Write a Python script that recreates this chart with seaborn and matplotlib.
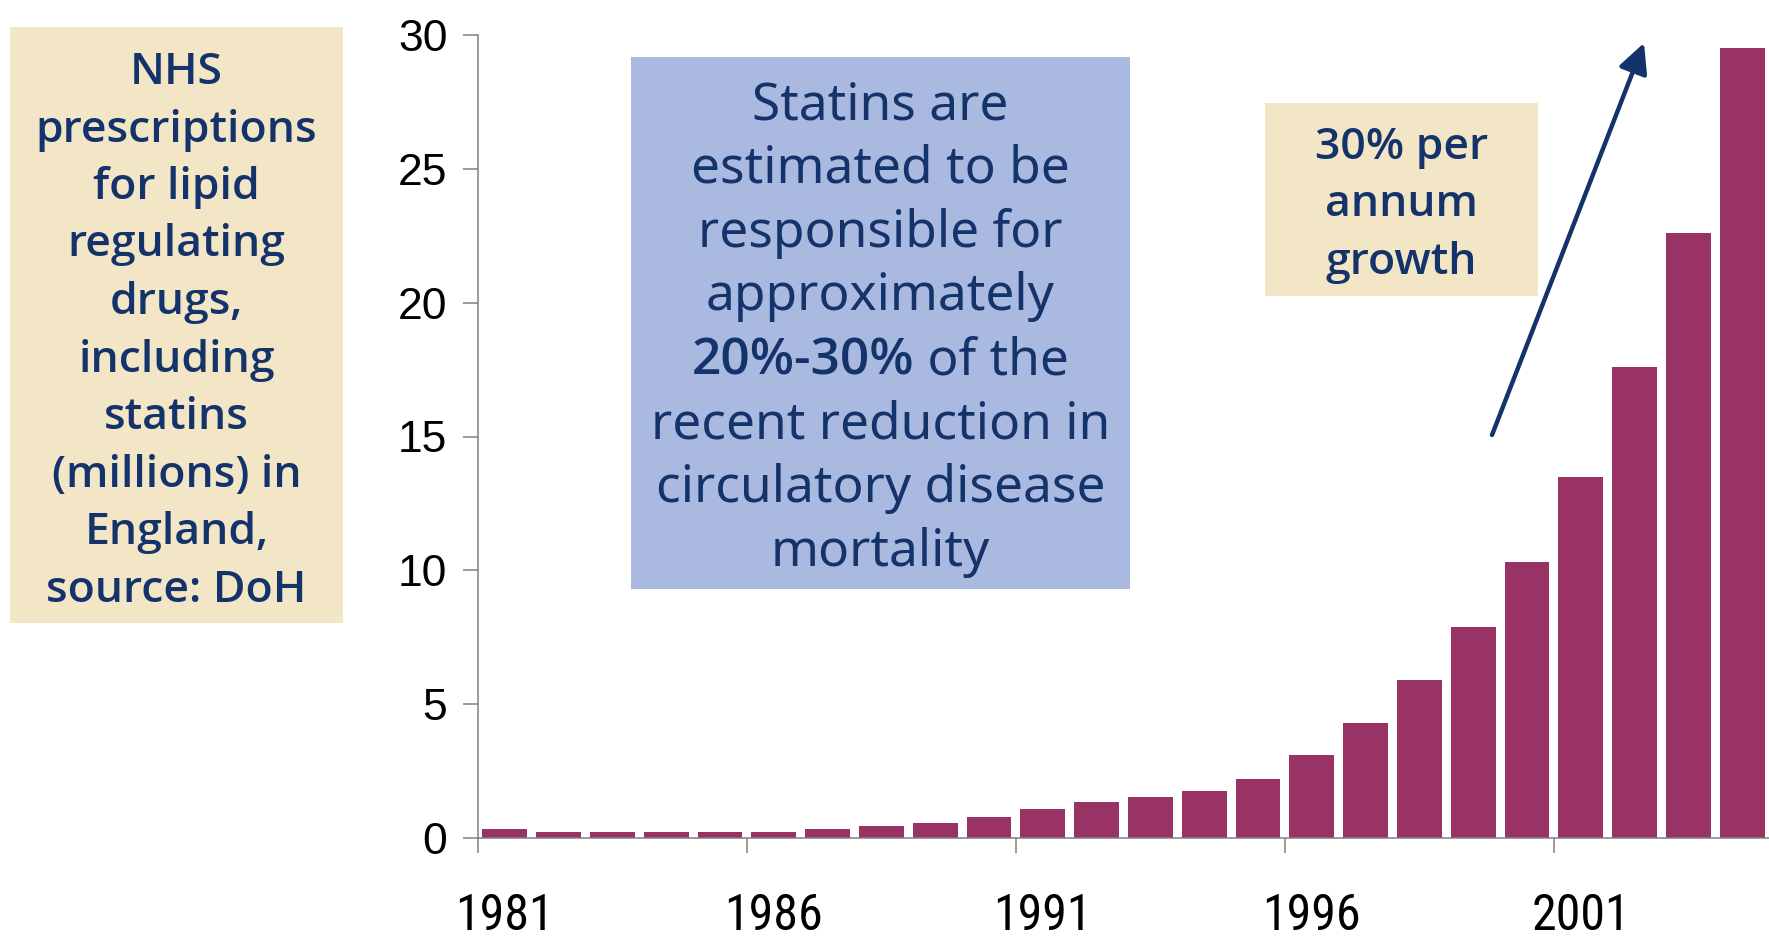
import matplotlib
matplotlib.use("Agg")
import matplotlib.pyplot as plt
from matplotlib import font_manager
from matplotlib.patches import Rectangle, FancyArrowPatch, ArrowStyle
import seaborn as sns
import pandas as pd

# ---- data -------------------------------------------------------------
years = ["1981", "1982", "1983", "1984", "1985", "1986", "1987", "1988",
         "1989", "1990", "1991", "1992", "1993", "1994", "1995", "1996",
         "1997", "1998", "1999", "2000", "2001", "2002", "2003", "2004"]
prescriptions_m = [0.34, 0.22, 0.22, 0.22, 0.22, 0.22, 0.34, 0.45,
                   0.56, 0.78, 1.1, 1.33, 1.55, 1.77, 2.2, 3.1,
                   4.3, 5.9, 7.9, 10.3, 13.5, 17.6, 22.6, 29.5]
year_labels = ["1981", "1986", "1991", "1996", "2001"]
y_ticks = [0, 5, 10, 15, 20, 25, 30]

source_lines = ["NHS", "prescriptions", "for lipid", "regulating", "drugs,",
                "including", "statins", "(millions) in", "England,",
                "source: DoH"]
statins_lines = ["Statins are", "estimated to be", "responsible for",
                 "approximately", None, "recent reduction in",
                 "circulatory disease", "mortality"]
statins_bold, statins_rest = "20%-30%", " of the"
growth_lines = ["30% per", "annum", "growth"]

# ---- style ------------------------------------------------------------
W, H = 1769, 939
BAR = "#993366"
NAVY = "#14336B"
BEIGE = "#F2E6C6"
BLUE = "#AAB9DF"
GREY = "#808080"

sns.set_style("ticks")


def weights_of(family):
    out = set()
    for f in font_manager.fontManager.ttflist:
        if f.name == family:
            w = f.weight
            if isinstance(w, str):
                w = {"bold": 700, "semibold": 600, "normal": 400,
                     "regular": 400, "medium": 500}.get(w.lower(), 400)
            out.add(int(w))
    return out


def pick_family(candidates, bold=False):
    for fam in candidates:
        ws = weights_of(fam)
        if not ws:
            continue
        if bold and max(ws) < 600:
            continue
        return fam
    return "DejaVu Sans"


text_regular = pick_family(["Noto Sans", "Open Sans", "DejaVu Sans"])
text_bold = pick_family(["Noto Sans", "Open Sans", "Lato", "Roboto", "DejaVu Sans"], bold=True)
bold_weight = 600 if 600 in weights_of(text_bold) else "bold"

narrow = None
for cand in ["Liberation Sans Narrow", "Roboto Condensed", "Open Sans Condensed"]:
    if weights_of(cand):
        narrow = cand
        break
if narrow is None:
    for f in font_manager.fontManager.ttflist:
        if ("Narrow" in f.name or "Condensed" in f.name) and "Mono" not in f.name:
            narrow = f.name
            break
if narrow is None:
    narrow = "Liberation Sans"

plt.rcParams["font.family"] = [text_regular, "DejaVu Sans"]


def fx(x):
    return x / W


def fy(y):
    return 1 - y / H


fig = plt.figure(figsize=(W / 100, H / 100), dpi=100)
ax = fig.add_axes([fx(478), fy(838), (W - 478) / W, (838 - 35) / H])

df = pd.DataFrame({"year": years, "count": prescriptions_m})
sns.barplot(data=df, x="year", y="count", color=BAR, saturation=1,
            width=0.833, linewidth=0, ax=ax)

ax.set_xlim(-0.5, len(years) - 0.5)
ax.set_ylim(0, 30)
ax.set_xlabel("")
ax.set_ylabel("")

# year labels sit under the first bar of each 5-year group,
# tick marks sit on the group boundaries
label_pos = [years.index(y) for y in year_labels]
ax.set_xticks(label_pos)
x_size = 36 if narrow != "Liberation Sans" else 33
ax.set_xticklabels(year_labels, fontfamily=narrow, fontsize=x_size,
                   fontweight="normal", color="black")
ax.set_xticks([p - 0.5 for p in label_pos], minor=True)
ax.tick_params(axis="x", which="major", length=0, pad=39)
ax.tick_params(axis="x", which="minor", length=11, width=1.1, color=GREY,
               direction="out", bottom=True)

ax.set_yticks(y_ticks)
ax.set_yticklabels([str(t) for t in y_ticks], fontfamily="Liberation Sans",
                   fontsize=32, color="black")
ax.tick_params(axis="y", length=11, width=1.1, color=GREY, pad=11,
               direction="out")

sns.despine(ax=ax, top=True, right=True)
for side in ("left", "bottom"):
    ax.spines[side].set_color(GREY)
    ax.spines[side].set_linewidth(1.1)
ax.spines["bottom"].set_zorder(5)

# ---- annotation boxes -------------------------------------------------
def box(x0, y0, x1, y1, color):
    fig.add_artist(Rectangle((fx(x0), fy(y1)), (x1 - x0) / W, (y1 - y0) / H,
                             transform=fig.transFigure, facecolor=color,
                             edgecolor="none", zorder=1))


def stack(lines, cx, base0, step, size, family, weight):
    for i, line in enumerate(lines):
        if line is None:
            continue
        fig.text(fx(cx), fy(base0 + i * step), line, ha="center",
                 va="baseline", fontsize=size, fontfamily=family,
                 fontweight=weight, color=NAVY, zorder=2)


bold_size = 32 if text_bold != "DejaVu Sans" else 28

box(10, 27, 343, 623, BEIGE)
stack(source_lines, 176.5, 84, 57.5, bold_size, text_bold, bold_weight)

box(631, 57, 1130, 589, BLUE)
stack(statins_lines, 880.5, 119, 63.8, 37, text_regular, "normal")

# mixed-weight line inside the blue box
mixed_y = fy(119 + 4 * 63.8)
t_bold = fig.text(0, mixed_y, statins_bold, ha="left", va="baseline",
                  fontsize=37 if text_bold != "DejaVu Sans" else 33,
                  fontfamily=text_bold, fontweight=bold_weight, color=NAVY, zorder=2)
t_rest = fig.text(0, mixed_y, statins_rest, ha="left", va="baseline",
                  fontsize=37, fontfamily=text_regular, fontweight="normal",
                  color=NAVY, zorder=2)
renderer = fig.canvas.get_renderer()
w_bold = t_bold.get_window_extent(renderer).width
w_rest = t_rest.get_window_extent(renderer).width
start = 880.5 - (w_bold + w_rest) / 2
t_bold.set_x(fx(start))
t_rest.set_x(fx(start + w_bold))

box(1265, 103, 1538, 296, BEIGE)
stack(growth_lines, 1401.5, 159, 57.5, bold_size, text_bold, bold_weight)

# growth arrow
arrow = FancyArrowPatch((fx(1492), fy(435)), (fx(1644), fy(43)),
                        transform=fig.transFigure,
                        arrowstyle=ArrowStyle("-|>", head_length=1.0, head_width=0.5),
                        mutation_scale=18, color=NAVY, linewidth=3.2,
                        shrinkA=0, shrinkB=0, zorder=3)
fig.add_artist(arrow)

fig.savefig("out.png", dpi=100)
